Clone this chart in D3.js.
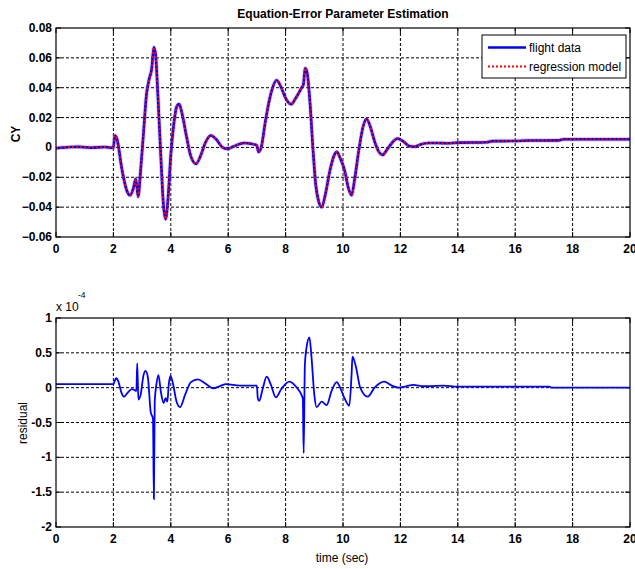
<!DOCTYPE html>
<html lang="en">
<head>
<meta charset="UTF-8">
<title>Equation-Error Parameter Estimation</title>
<script src="https://d3js.org/d3.v7.min.js"></script>
<style>
    body { margin: 0; background: #fff; }
    svg { display: block; font-family: "Liberation Sans", Arial, sans-serif; }
    .grid line { stroke: #000; stroke-dasharray: 3,2; stroke-width: 1; }
    .tick-label { font-size: 12px; font-weight: bold; }
</style>
</head>
<body>
<div id="chart"></div>
<script>
    // CY time history (flight data; regression model follows it)
    const cyTime = [0, 0.5, 0.8, 1.2, 1.7, 2.0, 2.05, 2.12, 2.3, 2.45, 2.58, 2.7, 2.78, 2.86, 2.95, 3.05, 3.15, 3.25, 3.33, 3.41, 3.47, 3.55, 3.65, 3.75, 3.82, 3.9, 4.0, 4.1, 4.2, 4.29, 4.4, 4.55, 4.7, 4.88, 5.05, 5.2, 5.4, 5.6, 5.8, 5.97, 6.2, 6.56, 6.8, 6.99, 7.06, 7.15, 7.3, 7.5, 7.69, 7.85, 8.0, 8.19, 8.35, 8.56, 8.62, 8.68, 8.75, 8.85, 8.95, 9.05, 9.15, 9.26, 9.4, 9.55, 9.7, 9.78, 9.9, 10.05, 10.2, 10.3, 10.4, 10.55, 10.7, 10.82, 10.95, 11.1, 11.25, 11.38, 11.55, 11.75, 11.9, 12.1, 12.3, 12.5, 12.7, 12.97, 13.3, 13.6, 14.0, 15.0, 15.2, 16.0, 16.5, 17.5, 17.7, 18.5, 20.0];
    const cyFlight = [-0.0005, 0.0003, 0.0004, -0.0002, 0.0003, -0.0003, 0.008, 0.006, -0.015, -0.028, -0.032, -0.027, -0.021, -0.033, -0.015, 0.01, 0.035, 0.046, 0.052, 0.067, 0.062, 0.035, -0.005, -0.04, -0.048, -0.035, -0.005, 0.015, 0.027, 0.029, 0.022, 0.007, -0.006, -0.011, -0.005, 0.003, 0.008, 0.005, 0.0, -0.001, 0.0008, 0.003, 0.0025, 0.0015, -0.003, 0.0, 0.018, 0.037, 0.045, 0.04, 0.033, 0.029, 0.033, 0.04, 0.042, 0.053, 0.05, 0.03, 0.0, -0.025, -0.036, -0.04, -0.03, -0.015, -0.005, -0.003, -0.007, -0.015, -0.028, -0.032, -0.022, -0.002, 0.014, 0.019, 0.014, 0.004, -0.003, -0.005, -0.001, 0.004, 0.006, 0.004, 0.001, 0.0005, 0.002, 0.003, 0.003, 0.0028, 0.0032, 0.0035, 0.0042, 0.0043, 0.0046, 0.0047, 0.0055, 0.0055, 0.0055];

    // residual (x 1e-4)
    const resTime = [0, 2.0, 2.05, 2.1, 2.18, 2.27, 2.37, 2.5, 2.64, 2.72, 2.8, 2.83, 2.87, 2.95, 3.05, 3.12, 3.2, 3.3, 3.38, 3.41, 3.44, 3.5, 3.57, 3.65, 3.75, 3.82, 3.88, 3.93, 3.99, 4.08, 4.2, 4.32, 4.5, 4.7, 4.94, 5.2, 5.48, 5.7, 5.93, 6.4, 7.0, 7.03, 7.08, 7.2, 7.34, 7.48, 7.66, 7.85, 8.13, 8.35, 8.6, 8.63, 8.67, 8.72, 8.83, 8.9, 9.0, 9.08, 9.26, 9.43, 9.6, 9.78, 9.9, 10.05, 10.22, 10.3, 10.33, 10.45, 10.6, 10.86, 11.1, 11.43, 11.7, 11.93, 12.2, 12.45, 12.8, 13.0, 13.5, 14.0, 17.2, 17.25, 20.0];
    const residual = [0.05, 0.05, 0.1, 0.135, 0.08, -0.06, -0.13, -0.07, -0.02, -0.03, -0.05, 0.35, -0.17, -0.1, 0.18, 0.24, 0.15, -0.35, -0.45, -1.6, -0.2, 0.05, 0.18, -0.05, -0.22, -0.15, -0.2, 0.05, 0.17, 0.05, -0.2, -0.28, -0.1, 0.08, 0.12, 0.06, -0.01, 0.02, 0.05, 0.03, 0.03, -0.15, -0.19, -0.02, 0.158, 0.05, -0.14, -0.02, 0.086, 0.02, -0.15, -0.94, 0.3, 0.55, 0.72, 0.45, -0.1, -0.28, -0.2, -0.25, -0.05, 0.08, 0.0, -0.15, -0.26, 0.2, 0.445, 0.3, 0.0, -0.13, 0.0, 0.086, 0.03, 0.0, 0.02, 0.04, 0.02, 0.02, 0.03, 0.015, 0.015, 0.0, 0.0];

    const xTicks = [0, 2, 4, 6, 8, 10, 12, 14, 16, 18, 20];
    const cyTicks = [-0.06, -0.04, -0.02, 0, 0.02, 0.04, 0.06, 0.08];
    const resTicks = [-2, -1.5, -1, -0.5, 0, 0.5, 1];
    const legendLabels = ["flight data", "regression model"];

    const W = 635, H = 569;
    const left = 56, right = 630;

    const svg = d3.select("#chart").append("svg")
        .attr("width", W).attr("height", H);

    const x = d3.scaleLinear().domain([0, 20]).range([left, right]);

    function panel(top, bottom, yDomain, yTicks, yFmt) {
        const y = d3.scaleLinear().domain(yDomain).range([bottom, top]);
        const g = svg.append("g");

        // dashed grid
        const grid = g.append("g").attr("class", "grid");
        grid.selectAll(".gx").data(xTicks.slice(1, -1)).join("line")
            .attr("x1", d => x(d)).attr("x2", d => x(d))
            .attr("y1", top).attr("y2", bottom);
        grid.selectAll(".gy").data(yTicks.slice(1, -1)).join("line")
            .attr("class", "gy")
            .attr("x1", left).attr("x2", right)
            .attr("y1", d => y(d)).attr("y2", d => y(d));

        // inward ticks on all sides
        const tk = g.append("g").attr("stroke", "#000").attr("stroke-width", 1);
        xTicks.forEach(d => {
            tk.append("line").attr("x1", x(d)).attr("x2", x(d)).attr("y1", bottom).attr("y2", bottom - 5);
            tk.append("line").attr("x1", x(d)).attr("x2", x(d)).attr("y1", top).attr("y2", top + 5);
        });
        yTicks.forEach(d => {
            tk.append("line").attr("x1", left).attr("x2", left + 5).attr("y1", y(d)).attr("y2", y(d));
            tk.append("line").attr("x1", right).attr("x2", right - 5).attr("y1", y(d)).attr("y2", y(d));
        });

        // tick labels
        g.selectAll(".xl").data(xTicks).join("text")
            .attr("class", "tick-label")
            .attr("x", d => x(d)).attr("y", bottom + 16)
            .attr("text-anchor", "middle")
            .text(d => d);
        g.selectAll(".yl").data(yTicks).join("text")
            .attr("class", "tick-label")
            .attr("x", left - 4).attr("y", d => y(d) + 4)
            .attr("text-anchor", "end")
            .text(yFmt);

        return { g, y, top, bottom };
    }

    function frame(p) {
        p.g.append("rect")
            .attr("x", left).attr("y", p.top)
            .attr("width", right - left).attr("height", p.bottom - p.top)
            .attr("fill", "none").attr("stroke", "#000").attr("stroke-width", 1.2);
    }

    // ---- top panel ----
    const p1 = panel(28, 237, [-0.06, 0.08], cyTicks, d => d === 0 ? "0" : d3.format(".2f")(d));
    const cyData = cyTime.map((t, i) => [t, cyFlight[i]]);
    const line1 = d3.line().x(d => x(d[0])).y(d => p1.y(d[1])).curve(d3.curveMonotoneX);

    p1.g.append("path").datum(cyData).attr("d", line1)
        .attr("fill", "none").attr("stroke", "#8080ff").attr("stroke-opacity", 0.35).attr("stroke-width", 4.5);
    p1.g.append("path").datum(cyData).attr("d", line1)
        .attr("fill", "none").attr("stroke", "#0000ff").attr("stroke-width", 2.6);
    p1.g.append("path").datum(cyData).attr("d", line1)
        .attr("fill", "none").attr("stroke", "#ff0000").attr("stroke-width", 2)
        .attr("stroke-dasharray", "2,2");
    frame(p1);

    // legend
    const lg = p1.g.append("g");
    lg.append("rect").attr("x", 482).attr("y", 35).attr("width", 144).attr("height", 43)
        .attr("fill", "#fff").attr("stroke", "#000").attr("stroke-width", 1);
    lg.append("line").attr("x1", 488).attr("x2", 526).attr("y1", 47.5).attr("y2", 47.5)
        .attr("stroke", "#0000ff").attr("stroke-width", 2.6);
    lg.append("line").attr("x1", 488).attr("x2", 526).attr("y1", 66.5).attr("y2", 66.5)
        .attr("stroke", "#ff0000").attr("stroke-width", 2).attr("stroke-dasharray", "2,2");
    lg.selectAll("text").data(legendLabels).join("text")
        .attr("x", 529).attr("y", (d, i) => 52 + i * 19)
        .attr("font-size", 12)
        .text(d => d);

    svg.append("text").attr("x", 343).attr("y", 18)
        .attr("text-anchor", "middle").attr("font-size", 12).attr("font-weight", "bold")
        .text("Equation-Error Parameter Estimation");
    svg.append("text").attr("transform", "translate(20,134) rotate(-90)")
        .attr("text-anchor", "middle").attr("font-size", 12).attr("font-weight", "bold")
        .text("CY");

    // ---- bottom panel ----
    const p2 = panel(318, 527, [-2, 1], resTicks, d => d);
    const resData = resTime.map((t, i) => [t, residual[i]]);
    const line2 = d3.line().x(d => x(d[0])).y(d => p2.y(d[1])).curve(d3.curveMonotoneX);
    p2.g.append("path").datum(resData).attr("d", line2)
        .attr("fill", "none").attr("stroke", "#0000ff").attr("stroke-width", 1.8);
    frame(p2);

    svg.append("text").attr("x", 56).attr("y", 311)
        .attr("font-size", 12).text("x 10");
    svg.append("text").attr("x", 78).attr("y", 298)
        .attr("font-size", 8.5).text("-4");
    svg.append("text").attr("transform", "translate(27,423) rotate(-90)")
        .attr("text-anchor", "middle").attr("font-size", 12)
        .text("residual");
    svg.append("text").attr("x", 342).attr("y", 562)
        .attr("text-anchor", "middle").attr("font-size", 12)
        .text("time (sec)");
</script>
</body>
</html>
